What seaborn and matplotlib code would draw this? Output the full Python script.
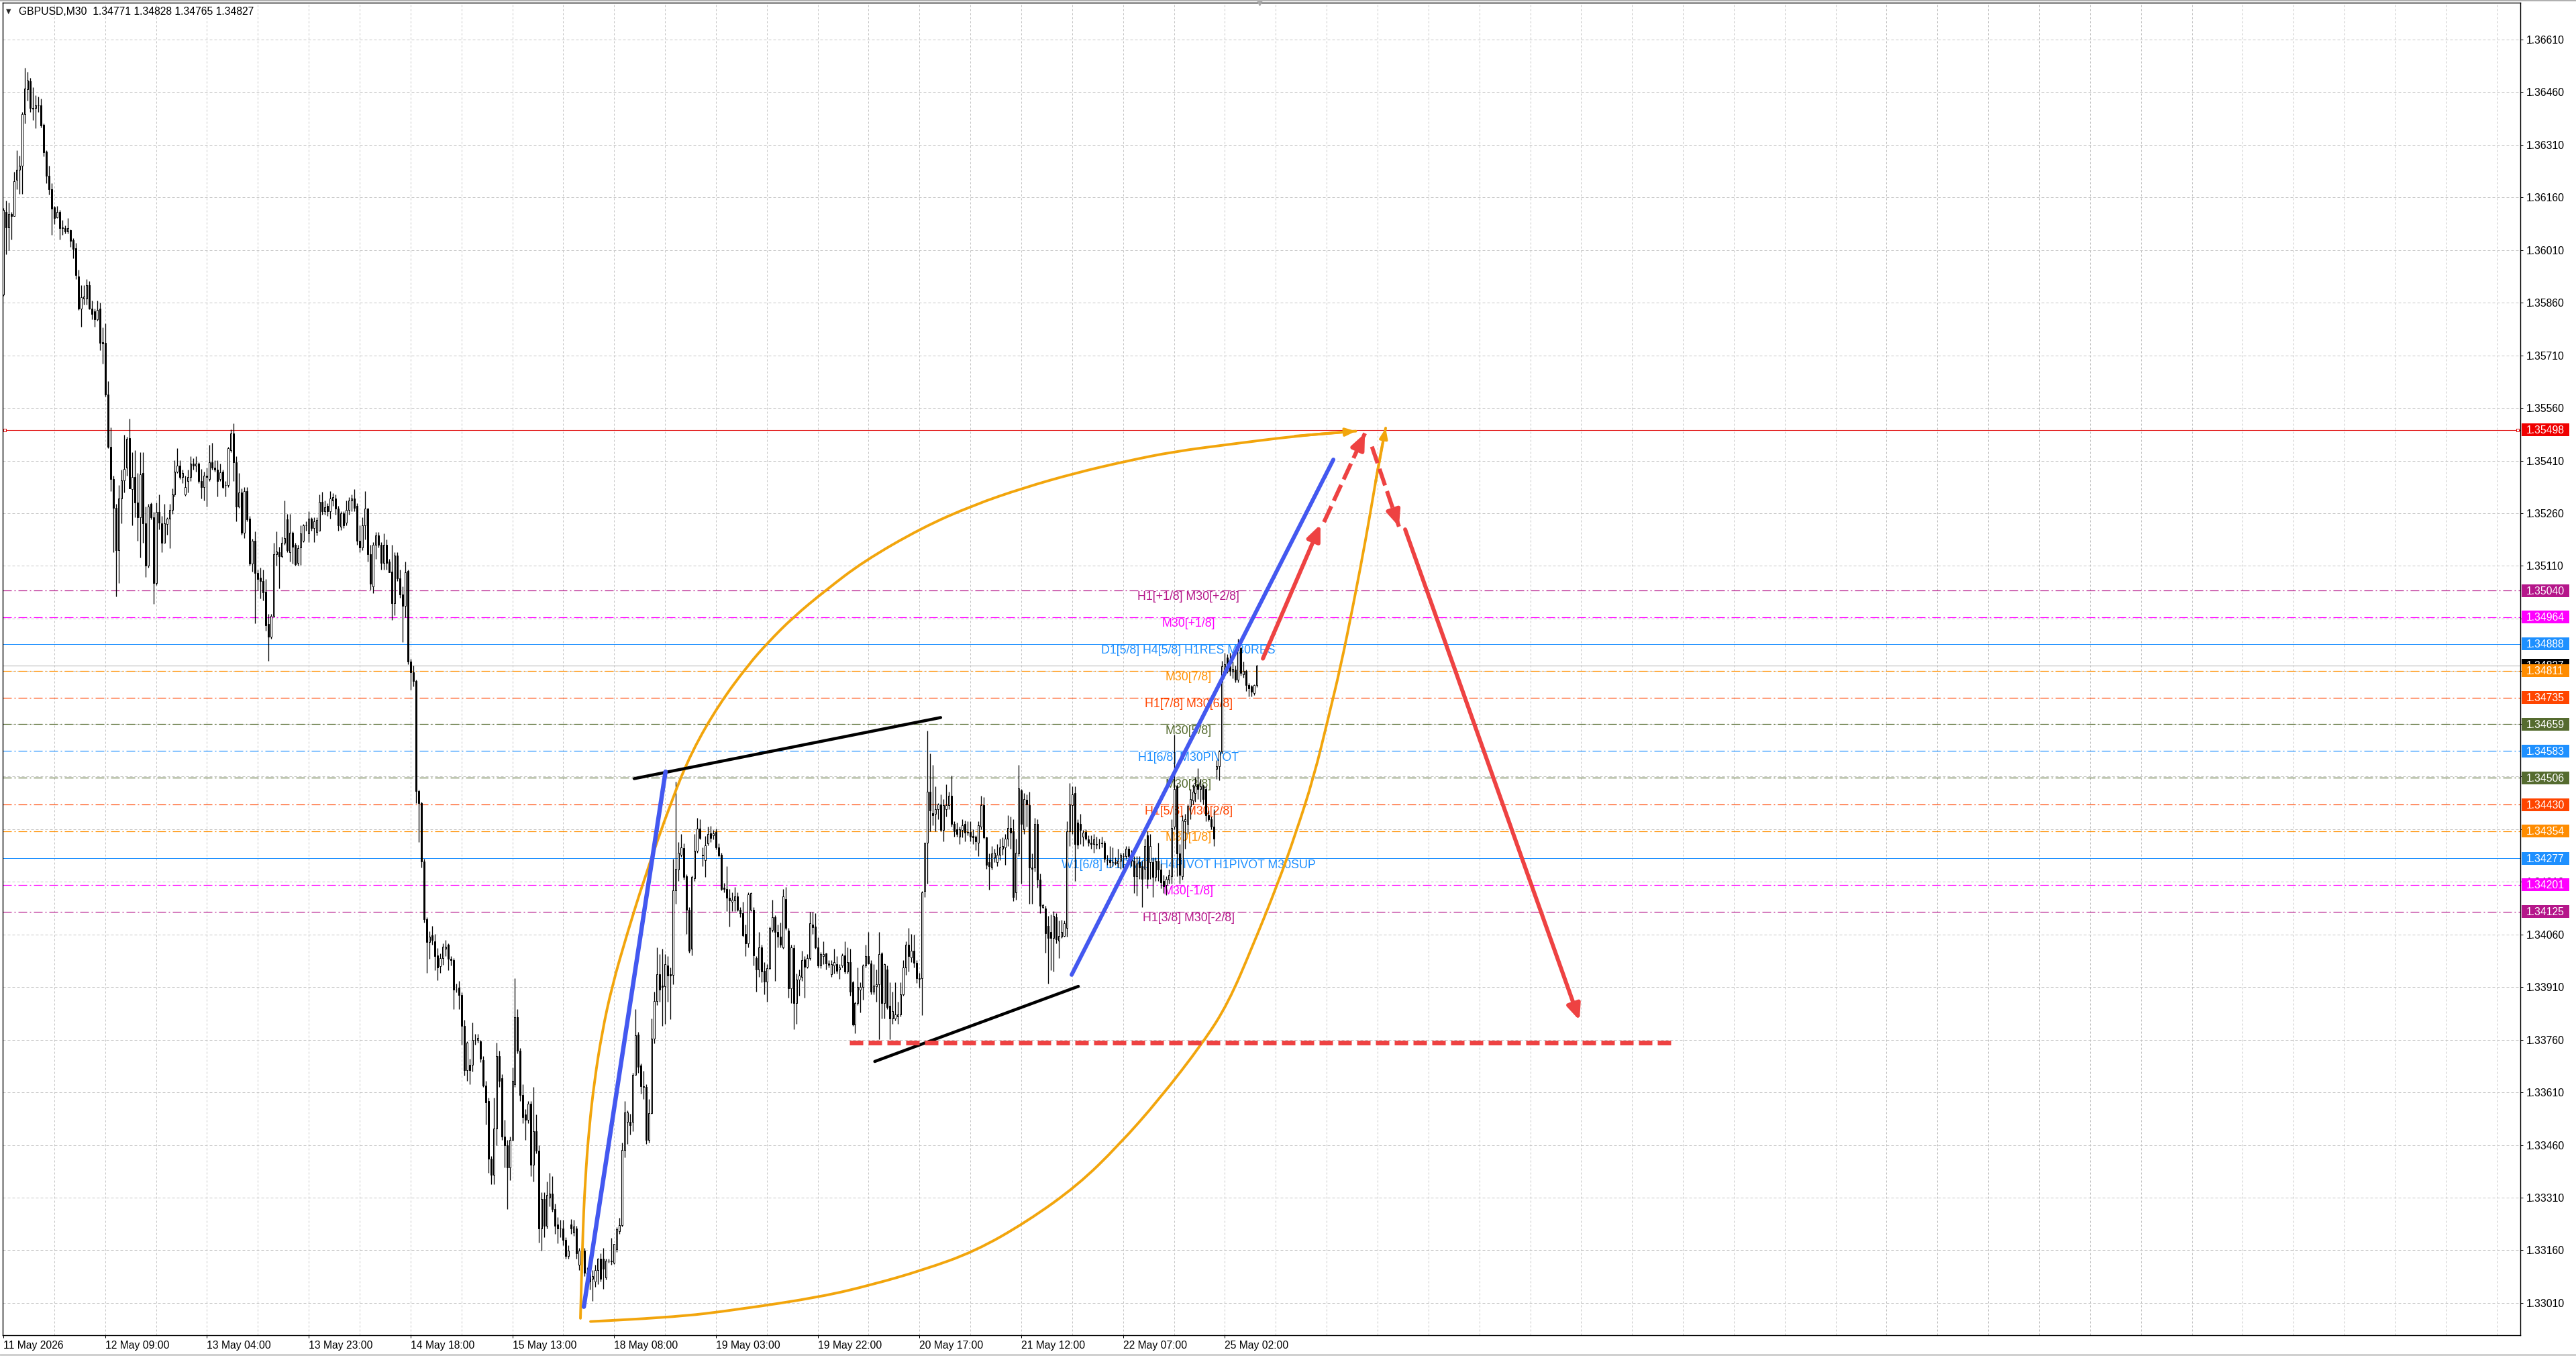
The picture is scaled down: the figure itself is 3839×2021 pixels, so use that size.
import numpy as np
import matplotlib
matplotlib.use("Agg")
import matplotlib.pyplot as plt
import seaborn as sns
from matplotlib.patches import Rectangle, PathPatch
from matplotlib.path import Path
from matplotlib.lines import Line2D
from matplotlib.transforms import blended_transform_factory

# ---------------- candle data (GBPUSD M30) ----------------
opens = [
 1.35883,1.36118,1.36074,1.36113,1.36107,1.36211,1.36239,1.36250,1.36398,1.36469,
 1.36491,1.36414,1.36414,1.36423,1.36423,1.36367,1.36291,1.36222,1.36184,1.36131,
 1.36104,1.36118,1.36072,1.36072,1.36063,1.36066,1.36039,1.36016,1.35934,1.35844,
 1.35871,1.35872,1.35910,1.35844,1.35836,1.35812,1.35844,1.35748,1.35746,1.35598,
 1.35450,1.35357,1.35275,1.35155,1.35302,1.35354,1.35390,1.35474,1.35328,1.35363,
 1.35291,1.35248,1.35374,1.35231,1.35111,1.35286,1.35248,1.35062,1.35264,1.35231,
 1.35176,1.35229,1.35244,1.35269,1.35313,1.35379,1.35395,1.35363,1.35313,1.35352,
 1.35363,1.35401,1.35395,1.35401,1.35352,1.35335,1.35368,1.35357,1.35406,1.35390,
 1.35384,1.35357,1.35379,1.35341,1.35341,1.35439,1.35488,1.35406,1.35280,1.35319,
 1.35204,1.35324,1.35244,1.35116,1.35182,1.35089,1.35076,1.35067,1.35036,1.34944,
 1.34908,1.34968,1.35144,1.35149,1.35138,1.35176,1.35242,1.35149,1.35204,
 1.35170,1.35118,1.35162,1.35181,1.35226,1.35202,1.35245,1.35218,1.35207,1.35210,
 1.35292,1.35265,1.35281,1.35265,1.35297,1.35302,1.35273,1.35221,1.35260,1.35233,
 1.35270,1.35297,1.35302,1.35281,1.35181,1.35162,1.35226,1.35273,1.35143,1.35051,
 1.35170,1.35197,1.35170,1.35118,1.35170,1.35123,1.35094,1.35004,1.35139,1.35075,
 1.35028,1.34996,1.35096,1.34838,1.34806,1.34782,1.34468,1.34434,1.34267,1.34104,
 1.34038,1.34057,1.34041,1.34001,1.33969,1.33993,1.34019,1.34030,1.33990,1.33987,
 1.33903,1.33908,1.33887,1.33800,1.33673,1.33689,1.33689,1.33760,1.33760,1.33756,
 1.33702,1.33629,1.33586,1.33420,1.33375,1.33507,1.33713,1.33650,1.33483,1.33459,
 1.33396,1.33475,1.33634,1.33824,1.33729,1.33602,1.33547,1.33531,1.33578,1.33404,
 1.33499,1.33444,1.33222,1.33306,1.33230,1.33309,1.33322,1.33277,1.33233,1.33222,
 1.33222,1.33190,1.33143,1.33233,1.33211,1.33222,1.33119,1.33158,1.33158,1.33095,
 1.33103,1.33079,1.33071,1.33103,1.33135,
 1.33135,1.33082,1.33130,1.33130,1.33124,1.33162,1.33215,1.33231,1.33446,1.33526,
 1.33526,1.33526,1.33660,1.33775,1.33687,1.33628,1.33625,1.33475,1.33550,1.33764,
 1.33871,1.33946,1.33914,1.33912,1.33971,1.33946,1.33944,1.34185,1.34244,1.34287,
 1.34306,1.34225,1.34131,1.34019,1.34220,1.34298,1.34362,1.34287,1.34271,1.34319,
 1.34349,1.34343,1.34351,1.34308,1.34287,1.34193,1.34190,1.34164,1.34153,1.34156,
 1.34169,1.34131,1.34121,1.34062,1.34035,1.34131,1.34131,1.33992,1.33960,1.34024,
 1.33957,1.33925,1.33963,1.34073,1.34110,1.34067,1.34053,1.34024,1.34160,1.34070,
 1.33907,1.34021,1.33864,1.33931,1.33939,1.33989,1.33968,1.33992,1.34089,1.34083,
 1.34024,1.33971,1.33998,1.34006,1.33978,1.33946,1.33971,1.33976,1.33960,1.33971,
 1.34000,1.33955,1.33981,1.33923,1.33803,1.33864,1.33903,1.33910,1.33971,1.33998,
 1.33978,1.33896,1.33912,1.33917,1.34006,1.33864,1.33960,1.33856,1.33821,1.33821,
 1.33826,1.33832,1.33890,1.33965,1.34030,1.33995,
 1.34014,1.33979,1.33936,1.33936,1.34184,1.34322,1.34467,1.34406,1.34403,1.34417,
 1.34431,1.34357,1.34417,1.34428,1.34456,1.34375,1.34360,1.34339,1.34357,1.34375,
 1.34350,1.34352,1.34341,1.34339,1.34322,1.34368,1.34428,1.34336,1.34265,1.34251,
 1.34279,1.34265,1.34286,1.34304,1.34307,1.34332,1.34364,1.34353,1.34180,1.34290,
 1.34470,1.34360,1.34443,1.34428,1.34251,1.34251,1.34375,1.34216,1.34138,1.34134,
 1.34085,1.34067,1.34049,1.34110,1.34042,1.34053,1.34056,1.34078,1.34353,1.34428,
 1.34463,1.34378,1.34375,1.34339,1.34352,1.34331,1.34322,1.34318,1.34318,1.34322,
 1.34322,1.34322,1.34272,1.34272,1.34265,1.34265,1.34262,1.34269,1.34283,1.34283,
 1.34304,1.34283,1.34269,1.34226,1.34265,1.34254,1.34247,1.34343,1.34265,1.34265,
 1.34223,1.34269,1.34244,1.34212,1.34201,1.34216,1.34226,1.34368,1.34481,1.34290,
 1.34226,1.34382,1.34375,1.34424,1.34442,1.34463,1.34488,1.34474,1.34484,1.34474,
 1.34399,1.34389,1.34368,1.34531,1.34540,1.34582,1.34817,1.34849,1.34824,1.34808,
 1.34814,1.34786,1.34875,1.34801,1.34811,1.34770,1.34766,1.34747,1.34771]

highs = [
 1.36130,1.36151,1.36146,1.36118,1.36233,1.36294,1.36280,1.36403,1.36529,1.36518,
 1.36501,1.36474,1.36452,1.36447,1.36441,1.36370,1.36294,1.36250,1.36200,1.36135,
 1.36135,1.36124,1.36096,1.36080,1.36102,1.36069,1.36044,1.36031,1.35954,1.35910,
 1.35910,1.35927,1.35921,1.35866,1.35844,1.35866,1.35861,1.35790,1.35801,1.35636,
 1.35505,1.35368,1.35286,1.35341,1.35384,1.35483,1.35478,1.35529,1.35434,1.35439,
 1.35374,1.35434,1.35434,1.35280,1.35286,1.35291,1.35264,1.35291,1.35313,1.35253,
 1.35286,1.35248,1.35286,1.35330,1.35412,1.35445,1.35412,1.35384,1.35368,1.35384,
 1.35423,1.35417,1.35423,1.35406,1.35386,1.35379,1.35390,1.35456,1.35461,1.35412,
 1.35412,1.35401,1.35384,1.35352,1.35450,1.35499,1.35516,1.35423,1.35374,1.35330,
 1.35335,1.35335,1.35253,1.35187,1.35209,1.35100,1.35105,1.35100,1.35073,1.34974,
 1.34974,1.35176,1.35209,1.35165,1.35193,1.35297,1.35259,1.35259,1.35209,
 1.35175,1.35170,1.35226,1.35229,1.35238,1.35265,1.35249,1.35249,1.35249,1.35313,
 1.35321,1.35297,1.35289,1.35324,1.35317,1.35313,1.35281,1.35265,1.35265,1.35297,
 1.35305,1.35313,1.35329,1.35289,1.35226,1.35249,1.35324,1.35276,1.35170,1.35178,
 1.35207,1.35207,1.35178,1.35202,1.35186,1.35131,1.35170,1.35150,1.35150,1.35099,
 1.35051,1.35123,1.35099,1.34845,1.34826,1.34785,1.34473,1.34437,1.34275,1.34109,
 1.34069,1.34085,1.34061,1.34022,1.34006,1.34034,1.34045,1.34034,1.33998,1.33993,
 1.33919,1.33927,1.33895,1.33816,1.33756,1.33705,1.33808,1.33776,1.33776,1.33760,
 1.33713,1.33642,1.33594,1.33428,1.33594,1.33752,1.33729,1.33661,1.33531,1.33475,
 1.33483,1.33681,1.33935,1.33847,1.33737,1.33634,1.33562,1.33586,1.33586,1.33626,
 1.33547,1.33459,1.33325,1.33325,1.33356,1.33380,1.33372,1.33293,1.33254,1.33246,
 1.33246,1.33198,1.33174,1.33249,1.33246,1.33230,1.33166,1.33166,1.33166,1.33111,
 1.33119,1.33103,1.33119,1.33138,1.33151,
 1.33167,1.33135,1.33135,1.33196,1.33178,1.33226,1.33253,1.33467,1.33585,1.33558,
 1.33548,1.33666,1.33848,1.33783,1.33692,1.33671,1.33633,1.33591,1.33821,1.33896,
 1.34024,1.34003,1.34019,1.34003,1.33998,1.33965,1.34276,1.34496,1.34324,1.34346,
 1.34319,1.34231,1.34137,1.34228,1.34346,1.34392,1.34389,1.34308,1.34340,1.34367,
 1.34370,1.34357,1.34362,1.34319,1.34292,1.34206,1.34255,1.34190,1.34180,1.34196,
 1.34180,1.34137,1.34153,1.34089,1.34180,1.34180,1.34137,1.33998,1.34067,1.34030,
 1.33981,1.33976,1.34083,1.34158,1.34115,1.34089,1.34094,1.34190,1.34196,1.34078,
 1.34030,1.34030,1.33949,1.33960,1.34014,1.33998,1.34003,1.34124,1.34124,1.34121,
 1.34051,1.34010,1.34040,1.34008,1.33987,1.33987,1.34019,1.33998,1.33976,1.34006,
 1.34040,1.34024,1.34019,1.33928,1.33869,1.33965,1.33923,1.33976,1.34030,1.34067,
 1.33987,1.33976,1.33960,1.34067,1.34010,1.33978,1.33971,1.33923,1.33896,1.33923,
 1.33869,1.33923,1.33987,1.34040,1.34078,1.34062,
 1.34060,1.33986,1.33950,1.34184,1.34322,1.34640,1.34576,1.34544,1.34481,1.34435,
 1.34459,1.34445,1.34488,1.34467,1.34512,1.34382,1.34378,1.34368,1.34389,1.34385,
 1.34382,1.34382,1.34360,1.34343,1.34382,1.34456,1.34452,1.34339,1.34290,1.34311,
 1.34304,1.34318,1.34332,1.34336,1.34346,1.34399,1.34396,1.34389,1.34332,1.34544,
 1.34474,1.34463,1.34459,1.34467,1.34290,1.34392,1.34389,1.34233,1.34148,1.34141,
 1.34113,1.34117,1.34127,1.34120,1.34099,1.34102,1.34099,1.34382,1.34491,1.34481,
 1.34481,1.34389,1.34403,1.34357,1.34360,1.34343,1.34343,1.34346,1.34339,1.34332,
 1.34339,1.34327,1.34286,1.34311,1.34307,1.34279,1.34304,1.34293,1.34293,1.34311,
 1.34311,1.34300,1.34283,1.34283,1.34283,1.34269,1.34332,1.34353,1.34346,1.34279,
 1.34279,1.34322,1.34262,1.34230,1.34226,1.34244,1.34389,1.34629,1.34488,1.34318,
 1.34399,1.34403,1.34431,1.34474,1.34488,1.34509,1.34534,1.34502,1.34488,1.34481,
 1.34414,1.34396,1.34417,1.34556,1.34585,1.34840,1.34862,1.34859,1.34862,1.34837,
 1.34827,1.34903,1.34880,1.34837,1.34814,1.34776,1.34770,1.34773,1.34828]

lows = [
 1.35880,1.35998,1.36009,1.36041,1.36107,1.36184,1.36171,1.36171,1.36370,1.36436,
 1.36403,1.36381,1.36357,1.36403,1.36359,1.36277,1.36200,1.36168,1.36053,1.36085,
 1.36102,1.36041,1.36053,1.36058,1.36058,1.36020,1.35987,1.35927,1.35839,1.35792,
 1.35855,1.35855,1.35842,1.35812,1.35792,1.35809,1.35724,1.35686,1.35592,1.35445,
 1.35324,1.35149,1.35023,1.35062,1.35231,1.35319,1.35368,1.35330,1.35226,1.35248,
 1.35182,1.35133,1.35176,1.35078,1.35105,1.35242,1.35001,1.35056,1.35215,1.35149,
 1.35176,1.35198,1.35160,1.35259,1.35308,1.35374,1.35357,1.35346,1.35310,1.35319,
 1.35352,1.35384,1.35379,1.35346,1.35302,1.35297,1.35280,1.35352,1.35384,1.35379,
 1.35308,1.35352,1.35330,1.35308,1.35335,1.35434,1.35352,1.35237,1.35275,1.35198,
 1.35190,1.35237,1.35111,1.35094,1.34946,1.35040,1.35018,1.35012,1.34925,1.34840,
 1.34903,1.34963,1.35111,1.35045,1.35133,1.35171,1.35149,1.35122,1.35116,
 1.35110,1.35110,1.35112,1.35178,1.35210,1.35178,1.35210,1.35178,1.35197,1.35210,
 1.35257,1.35257,1.35252,1.35245,1.35281,1.35257,1.35210,1.35213,1.35218,1.35226,
 1.35257,1.35265,1.35265,1.35170,1.35150,1.35154,1.35186,1.35123,1.35043,1.35032,
 1.35131,1.35162,1.35099,1.35099,1.35099,1.35091,1.34956,1.34969,1.35067,1.35020,
 1.34893,1.34964,1.34830,1.34758,1.34766,1.34434,1.34323,1.34251,1.34093,1.33950,
 1.33990,1.34030,1.33958,1.33930,1.33950,1.33974,1.33998,1.33958,1.33971,1.33847,
 1.33895,1.33847,1.33745,1.33657,1.33642,1.33634,1.33670,1.33745,1.33752,1.33697,
 1.33626,1.33518,1.33380,1.33349,1.33349,1.33459,1.33626,1.33475,1.33396,1.33277,
 1.33360,1.33475,1.33626,1.33721,1.33586,1.33523,1.33475,1.33523,1.33372,1.33356,
 1.33436,1.33182,1.33158,1.33198,1.33222,1.33285,1.33269,1.33206,1.33179,1.33198,
 1.33174,1.33135,1.33135,1.33206,1.33201,1.33135,1.33103,1.33095,1.33087,1.33063,
 1.33048,1.33016,1.33055,1.33063,1.33071,
 1.33049,1.33076,1.33124,1.33119,1.33121,1.33156,1.33207,1.33228,1.33424,1.33462,
 1.33489,1.33499,1.33660,1.33666,1.33607,1.33591,1.33462,1.33467,1.33548,1.33749,
 1.33858,1.33869,1.33799,1.33805,1.33869,1.33818,1.33917,1.34148,1.34212,1.34281,
 1.34217,1.34062,1.34008,1.34000,1.34212,1.34292,1.34330,1.34255,1.34223,1.34314,
 1.34324,1.34330,1.34303,1.34281,1.34185,1.34180,1.34126,1.34083,1.34126,1.34126,
 1.34126,1.34110,1.34053,1.33998,1.34024,1.34126,1.33971,1.33896,1.33939,1.33923,
 1.33890,1.33869,1.33960,1.34067,1.33928,1.34024,1.34024,1.34019,1.34073,1.33880,
 1.33864,1.33789,1.33805,1.33885,1.33928,1.33880,1.33963,1.33987,1.34062,1.34019,
 1.33965,1.33963,1.33976,1.33960,1.33965,1.33939,1.33949,1.33949,1.33933,1.33965,
 1.33949,1.33949,1.33885,1.33799,1.33778,1.33858,1.33837,1.33874,1.33965,1.33976,
 1.33890,1.33890,1.33869,1.33762,1.33821,1.33821,1.33848,1.33762,1.33805,1.33815,
 1.33805,1.33826,1.33885,1.33944,1.33955,1.33981,
 1.33965,1.33922,1.33908,1.33830,1.34166,1.34205,1.34353,1.34371,1.34353,1.34389,
 1.34353,1.34325,1.34396,1.34417,1.34368,1.34339,1.34339,1.34318,1.34336,1.34325,
 1.34343,1.34325,1.34318,1.34300,1.34283,1.34360,1.34332,1.34247,1.34187,1.34244,
 1.34265,1.34254,1.34272,1.34286,1.34258,1.34311,1.34304,1.34155,1.34159,1.34283,
 1.34205,1.34346,1.34368,1.34148,1.34148,1.34240,1.34194,1.34120,1.34134,1.34007,
 1.33919,1.33958,1.33954,1.34035,1.33993,1.34049,1.34053,1.34053,1.34311,1.34346,
 1.34212,1.34304,1.34318,1.34311,1.34329,1.34311,1.34304,1.34293,1.34304,1.34304,
 1.34307,1.34265,1.34258,1.34251,1.34254,1.34258,1.34251,1.34247,1.34247,1.34276,
 1.34272,1.34255,1.34177,1.34170,1.34219,1.34138,1.34219,1.34191,1.34219,1.34166,
 1.34212,1.34212,1.34191,1.34177,1.34173,1.34205,1.34205,1.34360,1.34226,1.34205,
 1.34216,1.34304,1.34346,1.34389,1.34431,1.34438,1.34445,1.34438,1.34431,1.34382,
 1.34382,1.34360,1.34311,1.34502,1.34499,1.34575,1.34801,1.34805,1.34798,1.34789,
 1.34779,1.34779,1.34798,1.34792,1.34754,1.34738,1.34738,1.34741,1.34765]

closes = [
 1.36124,1.36074,1.36113,1.36107,1.36206,1.36239,1.36250,1.36398,1.36471,1.36493,
 1.36414,1.36412,1.36423,1.36423,1.36365,1.36288,1.36222,1.36184,1.36129,1.36102,
 1.36118,1.36072,1.36074,1.36063,1.36072,1.36036,1.36014,1.35938,1.35844,1.35875,
 1.35877,1.35910,1.35844,1.35828,1.35812,1.35839,1.35746,1.35744,1.35598,1.35450,
 1.35357,1.35275,1.35155,1.35302,1.35354,1.35386,1.35472,1.35330,1.35363,1.35291,
 1.35248,1.35371,1.35231,1.35111,1.35280,1.35248,1.35062,1.35264,1.35233,1.35176,
 1.35231,1.35244,1.35269,1.35313,1.35379,1.35395,1.35363,1.35374,1.35335,1.35363,
 1.35401,1.35395,1.35401,1.35352,1.35335,1.35368,1.35363,1.35406,1.35390,1.35384,
 1.35352,1.35376,1.35335,1.35341,1.35445,1.35488,1.35406,1.35280,1.35319,1.35204,
 1.35324,1.35242,1.35116,1.35182,1.35089,1.35073,1.35067,1.35034,1.34941,1.34908,
 1.34968,1.35144,1.35152,1.35138,1.35176,1.35190,1.35155,1.35204,1.35165,
 1.35115,1.35160,1.35202,1.35226,1.35226,1.35245,1.35218,1.35238,1.35241,1.35292,
 1.35265,1.35278,1.35265,1.35302,1.35305,1.35273,1.35226,1.35260,1.35226,1.35270,
 1.35297,1.35302,1.35276,1.35181,1.35162,1.35226,1.35273,1.35143,1.35059,1.35170,
 1.35197,1.35170,1.35118,1.35170,1.35118,1.35091,1.35004,1.35139,1.35075,1.35028,
 1.34996,1.35091,1.34838,1.34806,1.34782,1.34468,1.34434,1.34267,1.34104,1.34038,
 1.34053,1.34045,1.33998,1.33966,1.33993,1.34025,1.34025,1.33990,1.33987,1.33903,
 1.33903,1.33887,1.33800,1.33673,1.33752,1.33673,1.33760,1.33760,1.33765,1.33705,
 1.33629,1.33581,1.33420,1.33375,1.33507,1.33713,1.33642,1.33483,1.33459,1.33396,
 1.33475,1.33642,1.33824,1.33729,1.33602,1.33539,1.33531,1.33578,1.33404,1.33499,
 1.33444,1.33222,1.33306,1.33230,1.33317,1.33322,1.33277,1.33230,1.33222,1.33222,
 1.33190,1.33143,1.33158,1.33222,1.33227,1.33151,1.33158,1.33119,1.33095,1.33079,
 1.33071,1.33087,1.33103,1.33135,1.33079,
 1.33108,1.33130,1.33130,1.33128,1.33178,1.33221,1.33231,1.33446,1.33553,1.33553,
 1.33516,1.33660,1.33773,1.33682,1.33628,1.33625,1.33475,1.33550,1.33764,1.33871,
 1.33946,1.33903,1.33910,1.33976,1.33942,1.33942,1.34185,1.34246,1.34292,1.34308,
 1.34223,1.34131,1.34014,1.34223,1.34298,1.34362,1.34335,1.34285,1.34314,1.34346,
 1.34335,1.34349,1.34308,1.34285,1.34190,1.34190,1.34164,1.34156,1.34158,1.34169,
 1.34131,1.34121,1.34057,1.34035,1.34174,1.34178,1.34000,1.33960,1.34024,1.33955,
 1.33925,1.33963,1.34078,1.34110,1.34067,1.34053,1.34030,1.34169,1.34078,1.33907,
 1.34024,1.33864,1.33931,1.33942,1.33987,1.33968,1.33992,1.34092,1.34081,1.34024,
 1.33971,1.34003,1.34003,1.33978,1.33974,1.33976,1.33981,1.33957,1.33965,1.34000,
 1.33955,1.33981,1.33896,1.33803,1.33864,1.33910,1.33910,1.33971,1.33998,1.33978,
 1.33896,1.33914,1.33917,1.34003,1.33864,1.33976,1.33853,1.33821,1.33842,1.33832,
 1.33832,1.33890,1.33965,1.34030,1.33998,1.34014,
 1.33979,1.33936,1.33933,1.34180,1.34322,1.34467,1.34414,1.34399,1.34417,1.34431,
 1.34357,1.34428,1.34428,1.34456,1.34375,1.34353,1.34346,1.34360,1.34371,1.34350,
 1.34352,1.34339,1.34336,1.34325,1.34371,1.34428,1.34336,1.34258,1.34254,1.34290,
 1.34293,1.34286,1.34307,1.34311,1.34332,1.34364,1.34350,1.34166,1.34293,1.34477,
 1.34375,1.34445,1.34431,1.34251,1.34247,1.34375,1.34216,1.34141,1.34143,1.34064,
 1.34049,1.34049,1.34113,1.34046,1.34056,1.34067,1.34092,1.34353,1.34431,1.34459,
 1.34318,1.34315,1.34357,1.34350,1.34332,1.34322,1.34318,1.34331,1.34315,1.34322,
 1.34320,1.34276,1.34272,1.34265,1.34265,1.34263,1.34269,1.34286,1.34283,1.34304,
 1.34283,1.34270,1.34226,1.34262,1.34251,1.34219,1.34311,1.34219,1.34311,1.34223,
 1.34269,1.34244,1.34208,1.34198,1.34219,1.34230,1.34364,1.34474,1.34290,1.34230,
 1.34385,1.34389,1.34424,1.34445,1.34467,1.34484,1.34474,1.34481,1.34445,1.34399,
 1.34389,1.34368,1.34332,1.34540,1.34582,1.34824,1.34830,1.34811,1.34811,1.34816,
 1.34786,1.34875,1.34805,1.34811,1.34770,1.34761,1.34751,1.34770,1.34827]

# ---------------- axis labels ----------------
date_labels = ["11 May 2026", "12 May 09:00", "13 May 04:00", "13 May 23:00", "14 May 18:00",
               "15 May 13:00", "18 May 08:00", "19 May 03:00", "19 May 22:00", "20 May 17:00",
               "21 May 12:00", "22 May 07:00", "25 May 02:00"]
date_label_bars = [0, 38, 76, 114, 152, 190, 228, 266, 304, 342, 380, 418, 456]
price_ticks = [1.36610, 1.36460, 1.36310, 1.36160, 1.36010, 1.35860, 1.35710, 1.35560, 1.35410,
               1.35260, 1.35110, 1.34960, 1.34810, 1.34660, 1.34510, 1.34360, 1.34210, 1.34060,
               1.33910, 1.33760, 1.33610, 1.33460, 1.33310, 1.33160, 1.33010]

# ---------------- Murrey-math style levels ----------------
level_prices = [1.35040, 1.34964, 1.34888, 1.34811, 1.34735, 1.34659, 1.34583,
                1.34506, 1.34430, 1.34354, 1.34277, 1.34201, 1.34125]
level_names = ["H1[+1/8] M30[+2/8]", "M30[+1/8]", "D1[5/8] H4[5/8] H1RES M30RES", "M30[7/8]",
               "H1[7/8] M30[6/8]", "M30[5/8]", "H1[6/8] M30PIVOT", "M30[3/8]", "H1[5/8] M30[2/8]",
               "M30[1/8]", "W1[6/8] D1PIVOT H4PIVOT H1PIVOT M30SUP", "M30[-1/8]", "H1[3/8] M30[-2/8]"]
level_colors = ["#b5178a", "#ff00ff", "#1e90ff", "#ff9000", "#ff4500", "#556b2f", "#1e90ff",
                "#556b2f", "#ff4500", "#ff9000", "#1e90ff", "#ff00ff", "#b5178a"]
level_solid = [False, False, True, False, False, False, False, False, False, False, True, False, False]
target_price = 1.35498
bid_price = 1.34827
header = "GBPUSD,M30  1.34771 1.34828 1.34765 1.34827"

# ---------------- hand-drawn objects (bar index, price) ----------------
arc_up_x = [215.43, 216.18, 217.18, 218.69, 220.69, 223.45, 227.20, 232.97, 239.23, 249.25, 257.01,
            267.28, 278.06, 285.32, 294.84, 306.86, 321.14, 342.69, 361.97, 381.01, 400.30, 419.34,
            437.12, 458.17, 482.21, 502.25]
arc_up_p = [1.32966, 1.33186, 1.33358, 1.33511, 1.33645, 1.33779, 1.33912, 1.34065, 1.34218, 1.34438,
            1.34582, 1.34717, 1.34828, 1.34891, 1.34964, 1.35040, 1.35123, 1.35218, 1.35283, 1.35333,
            1.35375, 1.35409, 1.35436, 1.35457, 1.35480, 1.35493]
arc_up_tip = (504.9, 1.35494)
arc_lo_x = [219.19, 249.25, 274.30, 305.11, 324.40, 343.44, 362.73, 382.01, 401.05, 416.33, 431.61,
            447.89, 457.16, 466.18, 475.70, 482.46, 489.23, 494.74, 499.25, 504.01, 508.77, 512.27, 514.78]
arc_lo_p = [1.32957, 1.32968, 1.32991, 1.33027, 1.33062, 1.33104, 1.33157, 1.33241, 1.33345, 1.33459,
            1.33591, 1.33752, 1.33863, 1.34023, 1.34203, 1.34348, 1.34509, 1.34681, 1.34824, 1.35002,
            1.35193, 1.35350, 1.35457]
arc_lo_tip = (516.03, 1.35503)

blue1_x, blue1_p = [216.7, 247.2], [1.32999, 1.34524]
blue2_x, blue2_p = [398.8, 496.5], [1.33945, 1.35413]
black1_x, black1_p = [235.5, 349.9], [1.34504, 1.34678]
black2_x, black2_p = [325.3, 401.3], [1.33698, 1.33912]
red_level_x, red_level_p = [315.9, 622.5], [1.33751, 1.33751]
arrow_up_solid = [(470.2, 1.34846), (491.7, 1.35228)]
arrow_up_dashed = [(493.0, 1.35235), (508.3, 1.35488)]
arrow_dn_dashed = [(510.9, 1.35450), (521.0, 1.35222)]
arrow_dn_solid = [(523.3, 1.35214), (588.4, 1.33815)]

# ---------------- styling ----------------
sns.set_theme(style="white")
plt.rcParams["font.family"] = ["Liberation Sans", "DejaVu Sans"]
plt.rcParams["lines.scale_dashes"] = False

W, H, DPI = 3839, 2021, 100
PT = 72.0 / DPI          # points per pixel
RED = "#ee4242"
BLUE = "#4358f0"
ORANGE = "#f2a50c"

fig = plt.figure(figsize=(W / DPI, H / DPI), dpi=DPI, facecolor="white")
ax = fig.add_axes([4 / W, 1 - 1990 / H, 3752 / W, 1986 / H])
ax.set_facecolor("white")
ax.set_xlim(-0.25, 939.6)
ax.set_ylim(1.32918, 1.36715)

# grid
for p in price_ticks:
    ax.axhline(p, color="#c4c4c4", lw=1.0 * PT, dashes=(4 * PT, 3 * PT), zorder=0.5)
for gx in range(19, 940, 19):
    ax.axvline(gx, color="#c4c4c4", lw=1.0 * PT, dashes=(3 * PT, 3 * PT), zorder=0.5)

# level lines and texts
label_x = 442.4
for p, name, col, solid in zip(level_prices, level_names, level_colors, level_solid):
    if solid:
        ax.axhline(p, color=col, lw=1.0 * PT, zorder=1)
    else:
        ax.axhline(p, color=col, lw=1.2 * PT, dashes=(13 * PT, 4 * PT, 2 * PT, 4 * PT), zorder=1)
    ax.annotate(name, xy=(label_x, p), xytext=(0, -1), textcoords="offset points",
                ha="center", va="top", color=col, fontsize=12.8, zorder=2)

ax.axhline(target_price, color="#e01010", lw=1.1 * PT, zorder=1.5)
ax.plot([0.5, 938.6], [target_price, target_price], ls="none", marker="s", ms=5 * PT,
        mfc="white", mec="#e01010", mew=1.0 * PT, zorder=1.6)
ax.axhline(bid_price, color="#c0c0c0", lw=1.2 * PT, zorder=1.5)

# candles
o = np.array(opens); h = np.array(highs); l = np.array(lows); c = np.array(closes)
x = np.arange(len(c))
up = c >= o
ax.vlines(x, l, h, color="black", lw=1.3 * PT, zorder=4)
ax.bar(x, np.abs(c - o), bottom=np.minimum(o, c), width=0.5,
       color=np.where(up, "white", "black"), edgecolor="black", linewidth=1.0 * PT, zorder=4.5)


# orange arcs: smooth quadratic-Bezier path through the read points
def smooth_path(xs, ys):
    pts = list(zip(xs, ys))
    verts, codes = [pts[0]], [Path.MOVETO]
    for i in range(1, len(pts) - 1):
        mid = ((pts[i][0] + pts[i + 1][0]) / 2, (pts[i][1] + pts[i + 1][1]) / 2)
        verts += [pts[i], mid]
        codes += [Path.CURVE3, Path.CURVE3]
    verts.append(pts[-1])
    codes.append(Path.LINETO)
    return Path(verts, codes)


for xs, ys in [(arc_up_x + [arc_up_tip[0]], arc_up_p + [arc_up_tip[1]]),
               (arc_lo_x + [arc_lo_tip[0]], arc_lo_p + [arc_lo_tip[1]])]:
    ax.add_patch(PathPatch(smooth_path(xs, ys), facecolor="none", edgecolor=ORANGE,
                           lw=3.9 * PT, capstyle="round", joinstyle="round", zorder=6))
for tip, back in [(arc_up_tip, (arc_up_x[-2], arc_up_p[-2])), (arc_lo_tip, (arc_lo_x[-2], arc_lo_p[-2]))]:
    ax.annotate("", xy=tip, xytext=back,
                arrowprops=dict(arrowstyle="-|>,head_length=9,head_width=3.5", color=ORANGE,
                                lw=3.9 * PT, shrinkA=0, shrinkB=0, mutation_scale=1), zorder=6)

# trend lines (seaborn line plots)
for xs, ys, col, w in [(black1_x, black1_p, "black", 4.5), (black2_x, black2_p, "black", 4.5),
                       (blue1_x, blue1_p, BLUE, 6.5), (blue2_x, blue2_p, BLUE, 6.0)]:
    sns.lineplot(x=xs, y=ys, sort=False, estimator=None, ax=ax, color=col, lw=w * PT,
                 solid_capstyle="round", zorder=6.5 if col == BLUE else 6)
ax.plot(red_level_x, red_level_p, color=RED, lw=7.0 * PT, dashes=(20 * PT, 8 * PT),
        dash_capstyle="butt", zorder=6.5)

# red arrows
head = "-|>,head_length=14,head_width=6"


def head_base(start, tip, back_px):
    s = ax.transData.transform(start)
    t = ax.transData.transform(tip)
    d = (t - s) / np.hypot(*(t - s))
    return tuple(ax.transData.inverted().transform(t - d * back_px))


for start, tip in [arrow_up_solid, arrow_dn_solid]:
    ax.annotate("", xy=tip, xytext=start,
                arrowprops=dict(arrowstyle=head, color=RED, lw=6.0 * PT, shrinkA=0, shrinkB=0,
                                mutation_scale=1, capstyle="round"), zorder=7)
for start, tip in [arrow_up_dashed, arrow_dn_dashed]:
    ax.plot([start[0], tip[0]], [start[1], tip[1]], color=RED, lw=6.0 * PT,
            dashes=(26 * PT, 9 * PT), dash_capstyle="butt", zorder=7)
    ax.annotate("", xy=tip, xytext=head_base(start, tip, 26),
                arrowprops=dict(arrowstyle=head, color=RED, lw=6.0 * PT, shrinkA=0, shrinkB=0,
                                mutation_scale=1), zorder=7)

# chart-shift marker
ax.plot([len(c)], [1.36715], marker="v", color="#a8a8a8", ms=8 * PT, clip_on=False, zorder=8)

# axes, ticks
for sp in ax.spines.values():
    sp.set_color("black")
    sp.set_linewidth(1.4 * PT)
    sp.set_visible(True)
ax.yaxis.tick_right()
ax.set_yticks(price_ticks)
ax.set_yticklabels([f"{v:.5f}" for v in price_ticks])
ax.tick_params(axis="y", direction="out", length=4 * PT, width=1.0 * PT, pad=5 * PT,
               labelsize=11.3, colors="black", right=True, left=False)
ax.set_xticks(date_label_bars)
ax.set_xticklabels(date_labels, ha="left")
ax.tick_params(axis="x", direction="out", length=4 * PT, width=1.0 * PT, pad=4 * PT,
               labelsize=11.3, colors="black", bottom=True)
ax.set_xlabel("")
ax.set_ylabel("")
ax.grid(False)

# coloured price labels on the right axis
trans = blended_transform_factory(ax.transAxes, ax.transData)
box_h = 19 / 52307
right_labels = [(target_price, "#f00000"), (1.35040, "#b5178a"), (1.34964, "#ff00ff"),
                (1.34888, "#1e90ff"), (bid_price, "#000000"), (1.34811, "#ff8c00"),
                (1.34735, "#ff4500"), (1.34659, "#556b2f"), (1.34583, "#1e90ff"),
                (1.34506, "#556b2f"), (1.34430, "#ff4500"), (1.34354, "#ff8c00"),
                (1.34277, "#1e90ff"), (1.34201, "#ff00ff"), (1.34125, "#b5178a")]
for i, (p, col) in enumerate(right_labels):
    ax.add_patch(Rectangle((1.00045, p - box_h / 2), 71 / 3752, box_h, transform=trans,
                           facecolor=col, edgecolor="none", clip_on=False, zorder=10 + i * 0.01))
    ax.text(1.0024, p - 1 / 52307, f"{p:.5f}", transform=trans, color="white", fontsize=11.3,
            va="center", ha="left", clip_on=False, zorder=10.005 + i * 0.01)

# header
fig.text(9 / W, 1 - 17 / H, "\u25bc", fontsize=7, family="DejaVu Sans", va="center", ha="left")
fig.text(28 / W, 1 - 17.5 / H, header, fontsize=11.3, va="center", ha="left", color="black")

# window frame lines
fig.add_artist(Line2D([0, 1], [1 - 1 / H, 1 - 1 / H], transform=fig.transFigure, color="#b0b0b0", lw=2 * PT))
fig.add_artist(Line2D([0, 1], [2 / H, 2 / H], transform=fig.transFigure, color="#d0d0d0", lw=3 * PT))

fig.savefig("out.png", dpi=DPI, facecolor="white")
